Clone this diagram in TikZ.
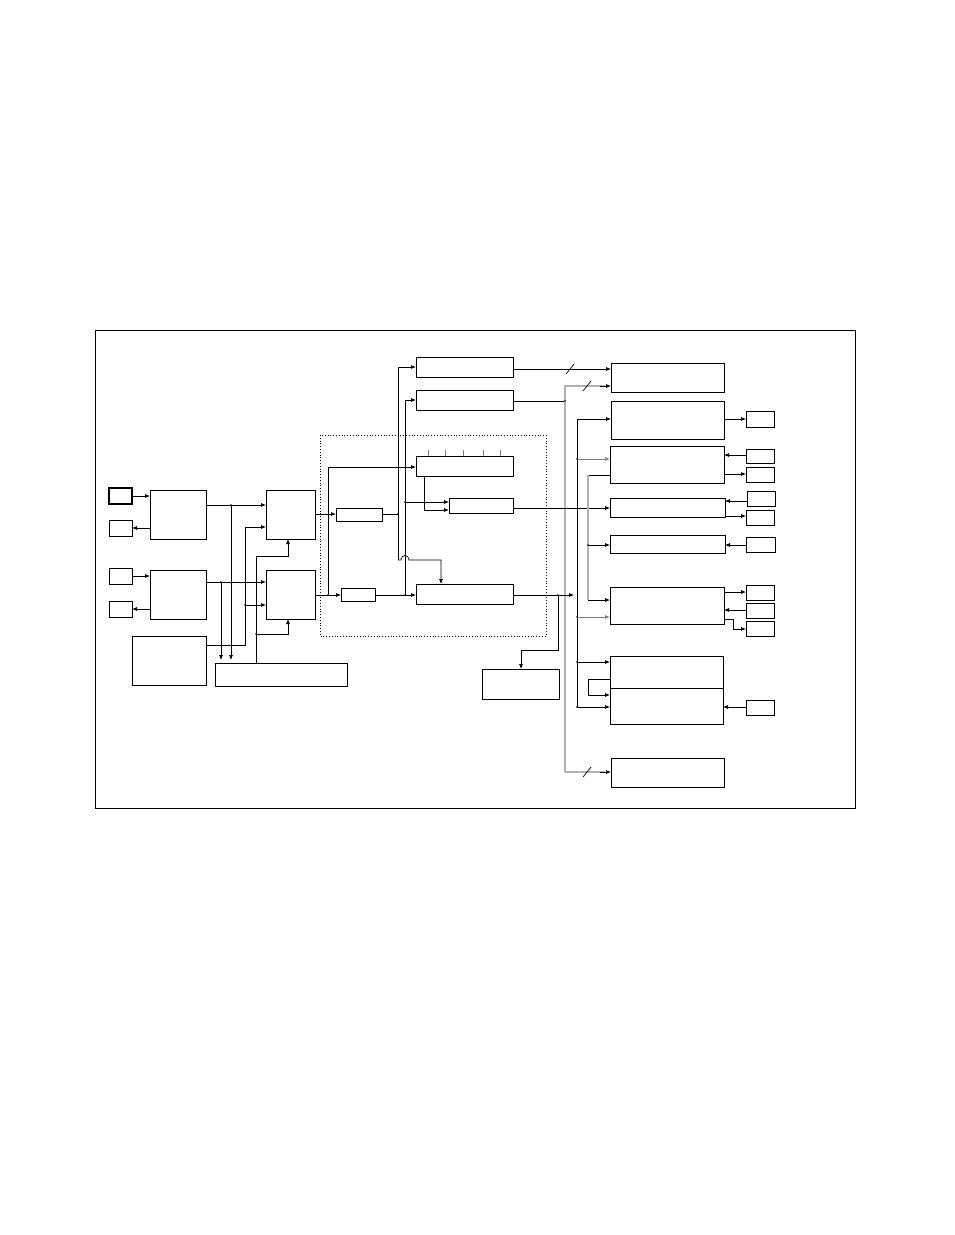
\documentclass[tikz,border=0pt]{standalone}
\usetikzlibrary{arrows.meta}
\tikzset{
  blk/.style={draw,line width=0.8pt},
  sbox/.style={draw,line width=0.8pt},
  ar/.style={-{Latex[length=5pt,width=4pt]},line width=0.7pt},
  ln/.style={line width=0.7pt},
  gbus/.style={line width=1.1pt,gray!60},
  dot/.style={circle,fill,inner sep=0.6pt},
}
\begin{document}
\begin{tikzpicture}[x=1pt,y=-1pt]
\useasboundingbox (0,0) rectangle (954,1235);
\draw[line width=0.6pt] (95,330) rectangle (855,808);
\draw[dotted,line width=0.8pt] (320,435) rectangle (546,636);

% left side
\draw[blk,line width=1.2pt] (109,488) rectangle (132,504);
\draw[blk] (109,520) rectangle (132,536);
\draw[blk] (109,568) rectangle (132,584);
\draw[blk] (109,601) rectangle (132,617);
\draw[blk] (150,490) rectangle (206,539);
\draw[blk] (150,570) rectangle (206,619);
\draw[blk] (132,636) rectangle (206,685);
\draw[blk] (266,490) rectangle (315,539);
\draw[blk] (266,570) rectangle (315,619);
\draw[blk] (215,663) rectangle (347,686);
\draw[ar] (132,496)--(150,496);
\draw[ar] (150,528)--(132,528);
\draw[ar] (132,576)--(150,576);
\draw[ar] (150,609)--(132,609);
\draw[ar] (206,505)--(266,505);
\draw[ar] (231,505)--(231,660);
\draw[ar] (206,582)--(266,582);
\draw[ar] (221,582)--(221,660);
\draw[ar] (206,645)--(245,645)--(245,527)--(266,527);
\draw[ar] (245,605)--(266,605);
\draw[ar] (256,663)--(256,556)--(288,556)--(288,539);
\draw[ar] (256,634)--(288,634)--(288,619);
\foreach \p in {(231,505),(221,582),(245,605),(256,634)} \node[dot] at \p {};

% middle
\draw[blk] (336,508) rectangle (382,521);
\draw[blk] (341,588) rectangle (375,601);
\draw[blk] (416,357) rectangle (513,377);
\draw[blk] (416,390) rectangle (513,410);
\draw[blk] (416,456) rectangle (513,476);
\draw[blk] (449,498) rectangle (513,513);
\draw[blk] (416,584) rectangle (513,604);
\draw[blk] (482,669) rectangle (559,699);
\foreach \x in {428,445,463,483,500} \draw[gray,line width=0.7pt] (\x,450)--(\x,456);
\draw[ar] (315,514)--(336,514);
\draw[ar] (315,595)--(341,595);
\draw[ar] (328,595)--(328,467)--(416,467);
\draw[ln] (382,514)--(398,514);
\draw[ar] (398,560)--(398,367)--(416,367);
\draw[ar] (398,560)--(401,560) .. controls (401,554) and (409,554) .. (409,560)--(441,560)--(441,584);
\draw[ar] (405,595)--(405,400)--(416,400);
\draw[ar] (375,595)--(416,595);
\draw[ar] (405,502)--(449,502);
\draw[ar] (424,476)--(424,510)--(449,510);
\foreach \p in {(328,595),(398,514),(405,502),(405,595)} \node[dot] at \p {};

% right side
\draw[blk] (611,363) rectangle (724,392);
\draw[blk] (611,401) rectangle (724,439);
\draw[blk] (610,446) rectangle (724,483);
\draw[blk] (610,498) rectangle (725,517);
\draw[blk] (610,535) rectangle (725,553);
\draw[blk] (610,587) rectangle (724,624);
\draw[blk] (610,656) rectangle (723,688);
\draw[blk] (610,688) rectangle (723,724);
\draw[blk] (611,758) rectangle (724,787);
\draw[ar] (513,369)--(611,369);
\draw[ln] (566,374)--(574,364);
\draw[ln] (513,401)--(565,401);
\draw[gbus] (565,772)--(565,386)--(605,386);
\draw[gbus] (565,772)--(605,772);
\draw[ar] (600,386)--(611,386);
\draw[ar] (600,772)--(611,772);
\draw[ln] (583,391)--(591,381);
\draw[ln] (583,777)--(591,767);
\draw[ar] (513,508)--(610,508);
\draw[ar] (513,595)--(574,595);
\draw[ar] (558,595)--(558,650)--(521,650)--(521,669);
\draw[ln] (577,419)--(577,707);
\draw[ar] (577,419)--(611,419);
\draw[ar,gray] (577,459)--(610,459);
\draw[ar,gray] (577,617)--(610,617);
\draw[ar] (577,662)--(610,662);
\draw[ar] (577,707)--(610,707);
\draw[ln] (610,475)--(588,475);
\draw[gbus] (588,475)--(588,600);
\draw[ar] (588,600)--(610,600);
\draw[ar] (588,545)--(610,545);
\draw[ar] (610,679)--(588,679)--(588,695)--(610,695);
\foreach \p in {(565,401),(558,595),(577,459),(577,617),(577,662),(577,707),(588,545)} \node[dot] at \p {};

\draw[sbox] (746,411) rectangle (774,427);
\draw[sbox] (746,449) rectangle (774,463);
\draw[sbox] (746,467) rectangle (774,482);
\draw[sbox] (747,491) rectangle (775,506);
\draw[sbox] (746,510) rectangle (774,525);
\draw[sbox] (746,537) rectangle (775,552);
\draw[sbox] (746,585) rectangle (774,600);
\draw[sbox] (746,603) rectangle (774,618);
\draw[sbox] (746,621) rectangle (774,636);
\draw[sbox] (746,700) rectangle (774,715);
\draw[ar] (724,419)--(746,419);
\draw[ar] (746,455)--(724,455);
\draw[ar] (724,474)--(746,474);
\draw[ar] (747,501)--(725,501);
\draw[ar] (725,516)--(746,516);
\draw[ar] (746,545)--(725,545);
\draw[ar] (724,592)--(746,592);
\draw[ar] (746,610)--(724,610);
\draw[ar] (724,619)--(733,619)--(733,629)--(746,629);
\draw[ar] (746,707)--(723,707);
\end{tikzpicture}
\end{document}
